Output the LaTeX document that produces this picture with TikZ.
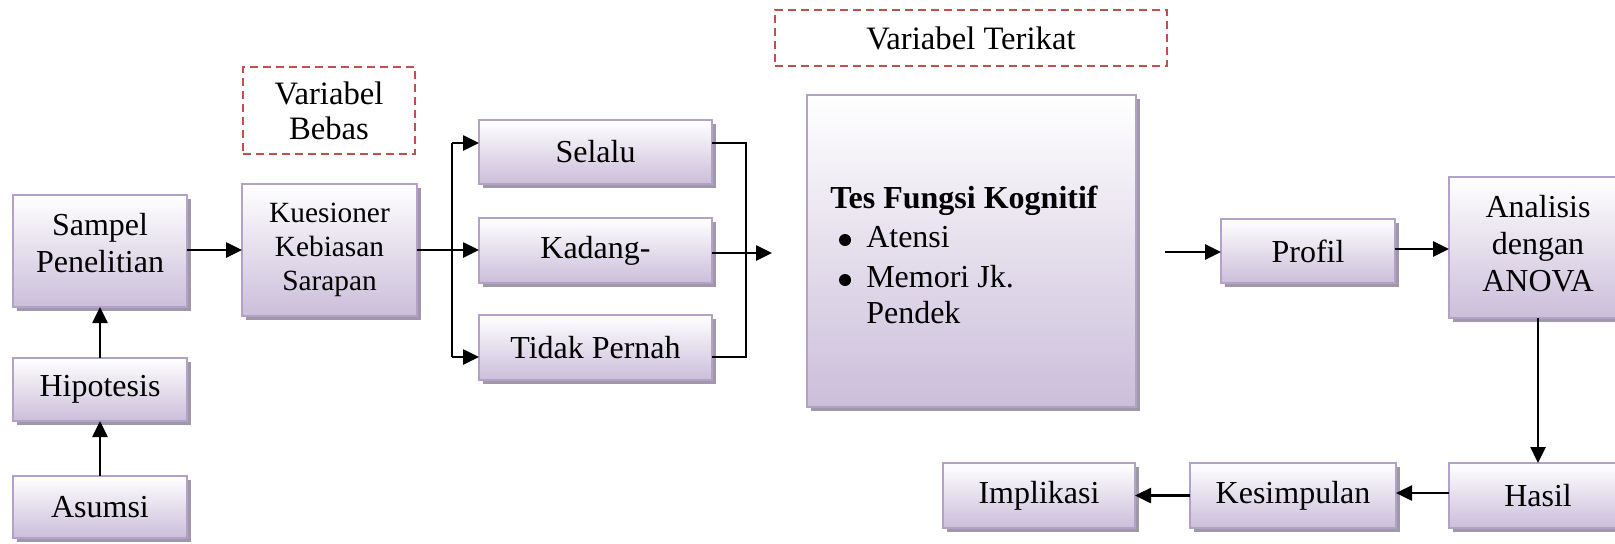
\documentclass[tikz,border=0pt]{standalone}
\usepackage{fontspec}
\setmainfont{Liberation Serif}
\usetikzlibrary{arrows.meta,shadows}
\newlength\pxu
\setlength\pxu{0.75pt}
\definecolor{boxline}{HTML}{B3A2C7}
\definecolor{boxtop}{HTML}{FFFFFF}
\definecolor{boxbot}{HTML}{CBBEDA}
\definecolor{boxshadow}{HTML}{9E98A8}
\definecolor{dashred}{HTML}{C0504D}
\tikzset{
  box/.style={draw=boxline, line width=2\pxu, top color=boxtop, bottom color=boxbot,
    inner sep=0pt, outer sep=0pt, align=center,
    font=\fontsize{24pt}{27.75pt}\selectfont,
    drop shadow={shadow xshift=3.5\pxu, shadow yshift=-3.5\pxu, opacity=1, fill=boxshadow}},
  labelbox/.style={draw=dashred, line width=2.6\pxu, dash pattern=on 6pt off 3.75pt,
    inner sep=0pt, outer sep=0pt, align=center,
    font=\fontsize{24.5pt}{26.25pt}\selectfont},
  txt/.style={anchor=base west, inner sep=0pt, font=\fontsize{24pt}{27.75pt}\selectfont},
  arr/.style={line width=2.6\pxu, -{Triangle[length=12pt,width=11.25pt]}},
  link/.style={line width=2.3\pxu}
}
\begin{document}
\begin{tikzpicture}[x=1\pxu, y=-1\pxu]
\useasboundingbox (0,0) rectangle (1615,543);
\clip (0,0) rectangle (1615,543);

% left column
\node[box, minimum width=174\pxu, minimum height=112\pxu, text depth=16\pxu] (samp) at (100,251) {Sampel\\Penelitian};
\node[box, minimum width=174\pxu, minimum height=63\pxu] (hip) at (100,389.5) {Hipotesis};
\node[box, minimum width=174\pxu, minimum height=62\pxu] (asu) at (100,507) {Asumsi};

% questionnaire and its categories
\node[box, minimum width=175\pxu, minimum height=132\pxu,
  font=\fontsize{22pt}{25.5pt}\selectfont] (kue) at (329.5,250) {Kuesioner\\Kebiasan\\Sarapan};
\node[labelbox, minimum width=172\pxu, minimum height=87\pxu] (bebas) at (329,110.5) {Variabel\\Bebas};

\node[box, minimum width=233\pxu, minimum height=64\pxu] (sel) at (595.5,152) {Selalu};
\node[box, minimum width=233\pxu, minimum height=65\pxu] (kad) at (595.5,250.5) {Kadang-};
\node[box, minimum width=233\pxu, minimum height=65\pxu] (tid) at (595.5,347.5) {Tidak Pernah};

% cognitive test
\node[labelbox, minimum width=392\pxu, minimum height=56\pxu] (terikat) at (971,38) {Variabel Terikat};
\node[box, minimum width=329\pxu, minimum height=312\pxu] (tes) at (971.5,251) {};
\node[txt] (tes1) at (830,208) {\textbf{Tes Fungsi Kognitif}};
\node[txt] (tes2) at (866,247) {Atensi};
\node[txt] (tes3) at (866,287) {Memori Jk.};
\node[txt] (tes4) at (866,323) {Pendek};
\fill (845,240) circle (6);
\fill (845,280) circle (6);

% analysis chain
\node[box, minimum width=174\pxu, minimum height=64\pxu] (prof) at (1308,251) {Profil};
\node[box, minimum width=178\pxu, minimum height=141\pxu, text depth=8\pxu,
  font=\fontsize{24pt}{28pt}\selectfont] (ana) at (1538,247.5) {Analisis\\dengan\\ANOVA};
\node[box, minimum width=178\pxu, minimum height=65\pxu] (has) at (1538,495.5) {Hasil};
\node[box, minimum width=206\pxu, minimum height=65\pxu] (kes) at (1293,495.5) {Kesimpulan};
\node[box, minimum width=192\pxu, minimum height=65\pxu] (imp) at (1039,495.5) {Implikasi};

% connectors
\draw[arr] (asu.north) -- (hip.south);
\draw[arr] (hip.north) -- (samp.south);
\draw[arr] (samp.east |- 0,250) -- (kue.west |- 0,250);

\coordinate (sp) at (452,250);
\coordinate (spT) at (452,143);
\coordinate (spB) at (452,357);
\coordinate (jnT) at (746,143);
\coordinate (jnB) at (746,357);
\coordinate (out) at (772,253);
\coordinate (inp) at (1165,252);

\draw[link] (kue.east) -- (sp);
\draw[link] (spT) -- (spB);
\draw[arr] (spT) -- (sel.west |- spT);
\draw[arr] (sp) -- (kad.west |- sp);
\draw[arr] (spB) -- (tid.west |- spB);
\draw[link] (sel.east |- jnT) -- (jnT) -- (jnB) -- (tid.east |- jnB);
\draw[arr] (kad.east |- out) -- (out);

\draw[arr] (inp) -- (prof.west |- inp);
\draw[arr] (prof.east |- 0,249) -- (ana.west |- 0,249);
\draw[arr] (ana.south) -- (has.north);
\draw[arr] (has.west |- 0,493) -- (kes.east |- 0,493);
\draw[arr] (kes.west) -- (imp.east);
\end{tikzpicture}
\end{document}
